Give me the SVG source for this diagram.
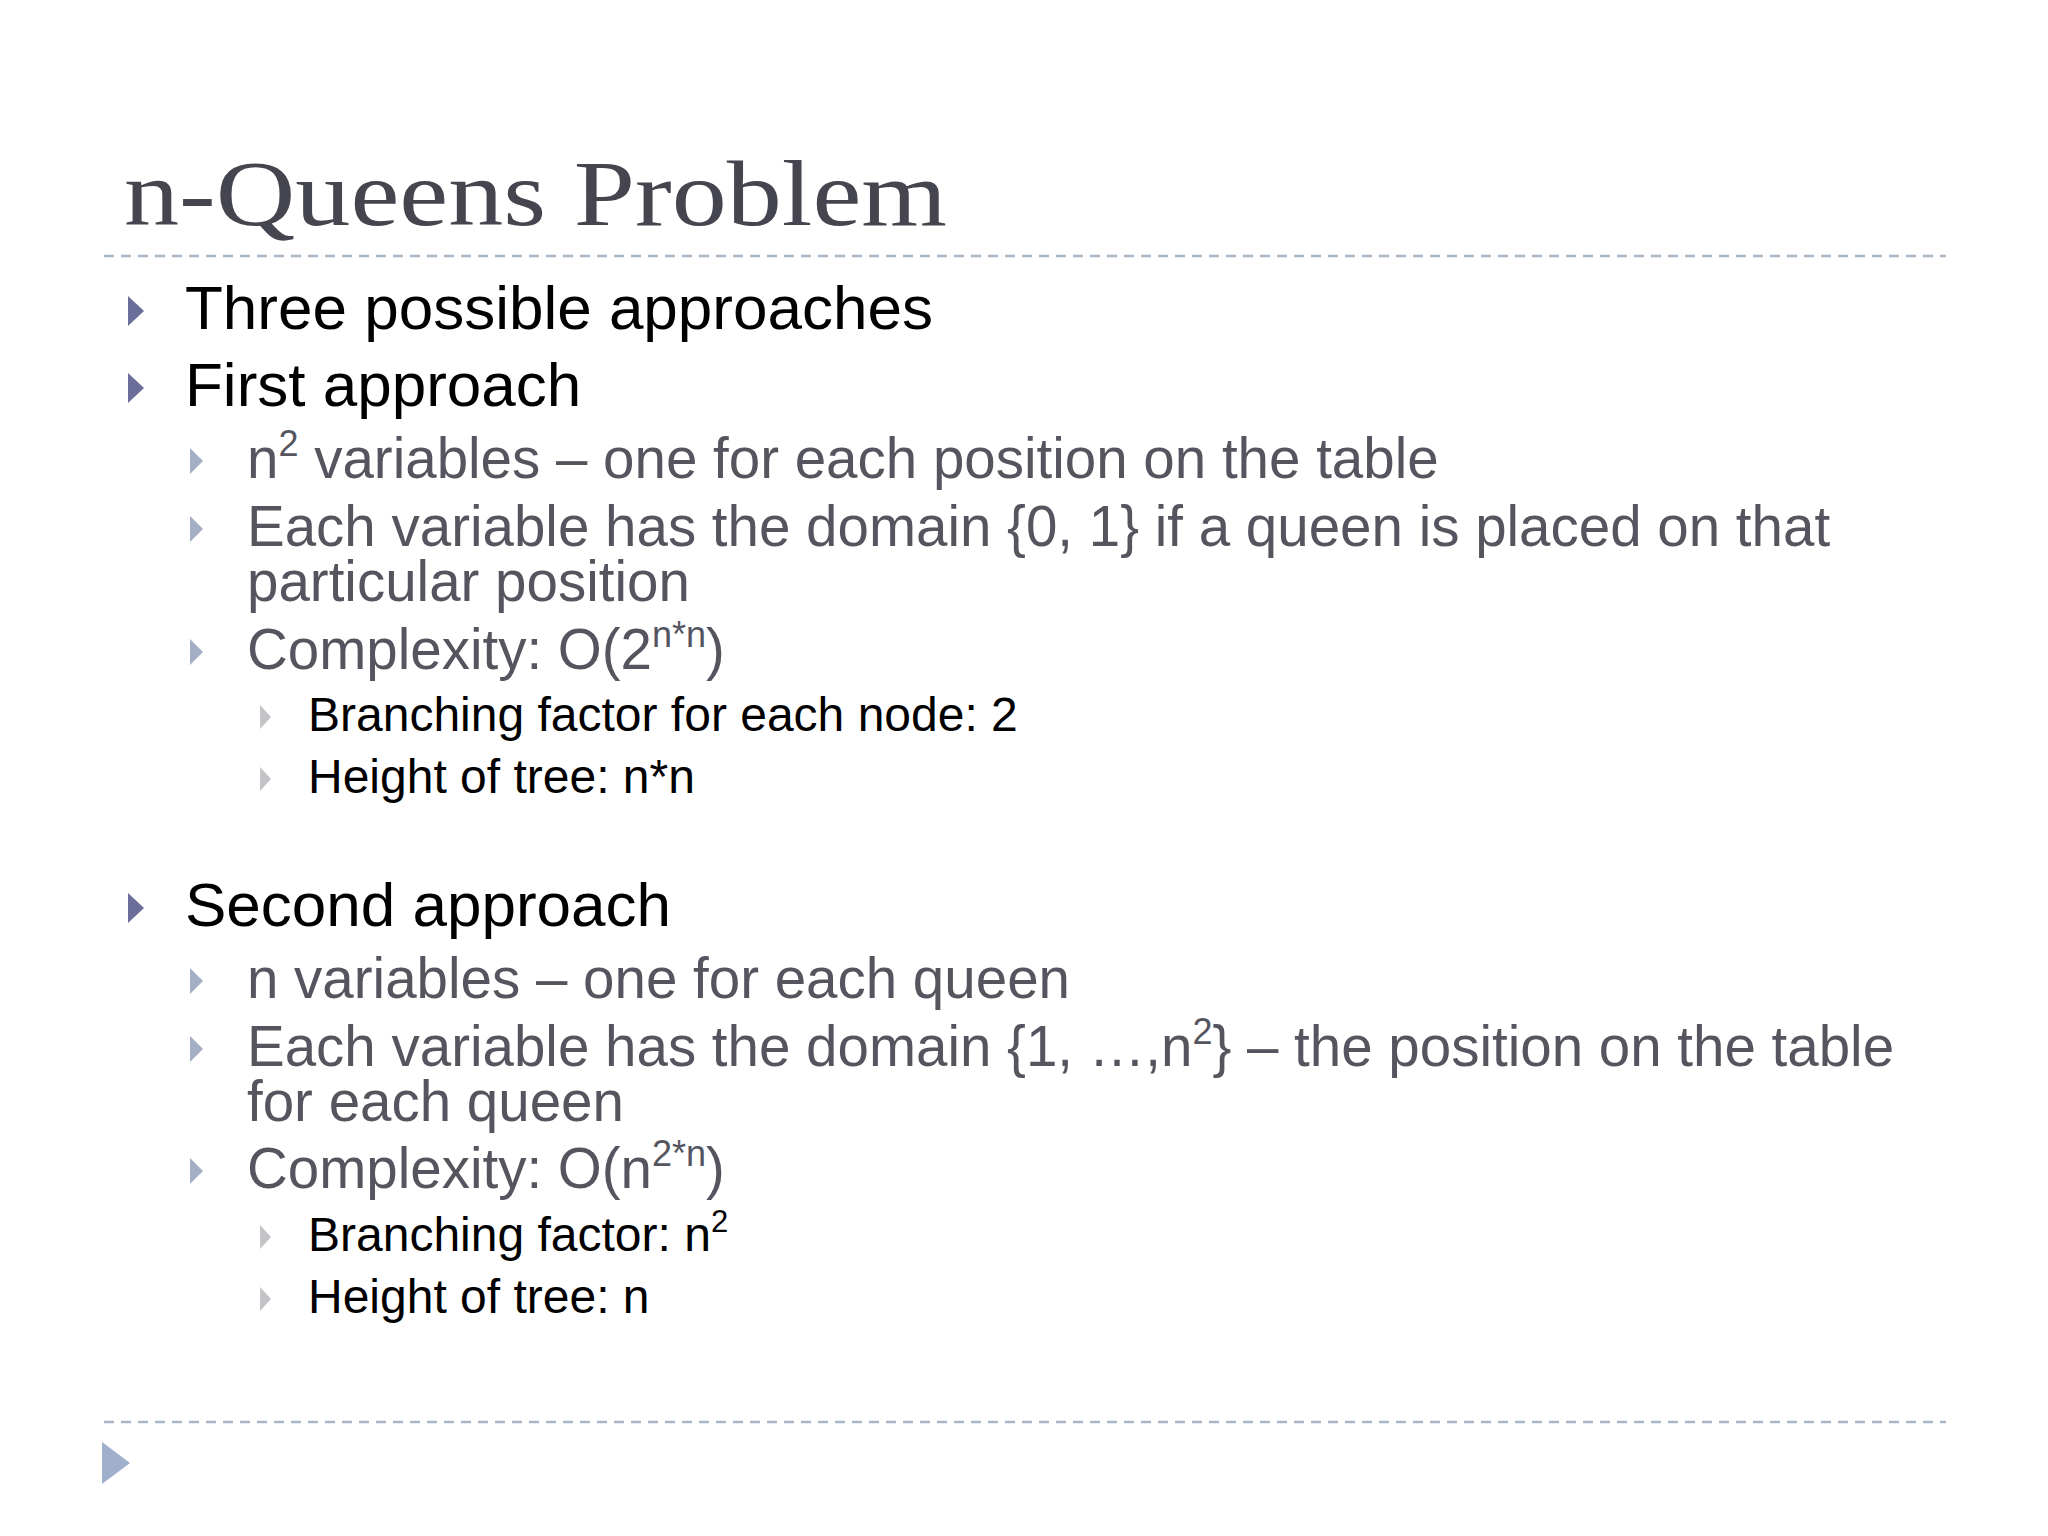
<svg xmlns="http://www.w3.org/2000/svg" width="2048" height="1536" viewBox="0 0 2048 1536">
<style>
.t{font-family:"Liberation Serif",serif;font-size:94px;fill:#45454f}
.l1{font-family:"Liberation Sans",Arial,sans-serif;font-size:62px;fill:#000}
.l2{font-family:"Liberation Sans",Arial,sans-serif;font-size:56.5px;fill:#55555f}
.l3{font-family:"Liberation Sans",Arial,sans-serif;font-size:48px;fill:#000}
.b1{fill:#6a6e98}.b2{fill:#a4aec4}.b3{fill:#c4c4c8}
.d{stroke:#a8b6c6;stroke-width:2.5;stroke-dasharray:10 7}
</style>
<defs>
<path id="tri1" d="M0,-15 L16,0 L0,15Z"/>
<path id="tri2" d="M0,-13 L13,0 L0,13Z"/>
<path id="tri3" d="M0,-12 L11,0 L0,12Z"/>
</defs>
<rect width="2048" height="1536" fill="#fff"/>
<text class="t" x="124" y="225" textLength="823" lengthAdjust="spacingAndGlyphs">n-Queens Problem</text>
<line class="d" x1="104" y1="256" x2="1946" y2="256"/>
<line class="d" x1="104" y1="1422" x2="1946" y2="1422"/>
<path d="M102,1442 L130,1463 L102,1484Z" fill="#a0b0cc"/>
<g class="b1">
<use href="#tri1" x="128" y="311"/><use href="#tri1" x="128" y="388"/><use href="#tri1" x="128" y="908"/>
</g>
<g class="b2">
<use href="#tri2" x="190" y="461"/><use href="#tri2" x="190" y="529"/><use href="#tri2" x="190" y="652"/>
<use href="#tri2" x="190" y="981"/><use href="#tri2" x="190" y="1049"/><use href="#tri2" x="190" y="1171"/>
</g>
<g class="b3">
<use href="#tri3" x="260" y="717"/><use href="#tri3" x="260" y="779"/><use href="#tri3" x="260" y="1237"/><use href="#tri3" x="260" y="1299"/>
</g>
<text class="l1" x="185" y="329">Three possible approaches</text>
<text class="l1" x="185" y="406">First approach</text>
<text class="l2" x="247" y="478">n<tspan font-size="36" dy="-22">2</tspan><tspan dy="22"> variables – one for each position on the table</tspan></text>
<text class="l2" x="247" y="546">Each variable has the domain {0, 1} if a queen is placed on that</text>
<text class="l2" x="247" y="601">particular position</text>
<text class="l2" x="247" y="669">Complexity: O(2<tspan font-size="36" dy="-22">n*n</tspan><tspan dy="22">)</tspan></text>
<text class="l3" x="308" y="731">Branching factor for each node: 2</text>
<text class="l3" x="308" y="793">Height of tree: n*n</text>
<text class="l1" x="185" y="926">Second approach</text>
<text class="l2" x="247" y="998">n variables – one for each queen</text>
<text class="l2" x="247" y="1066">Each variable has the domain {1, …,n<tspan font-size="36" dy="-22">2</tspan><tspan dy="22">} – the position on the table</tspan></text>
<text class="l2" x="247" y="1121">for each queen</text>
<text class="l2" x="247" y="1188">Complexity: O(n<tspan font-size="36" dy="-22">2*n</tspan><tspan dy="22">)</tspan></text>
<text class="l3" x="308" y="1251">Branching factor: n<tspan font-size="31" dy="-19">2</tspan></text>
<text class="l3" x="308" y="1313">Height of tree: n</text>
</svg>
